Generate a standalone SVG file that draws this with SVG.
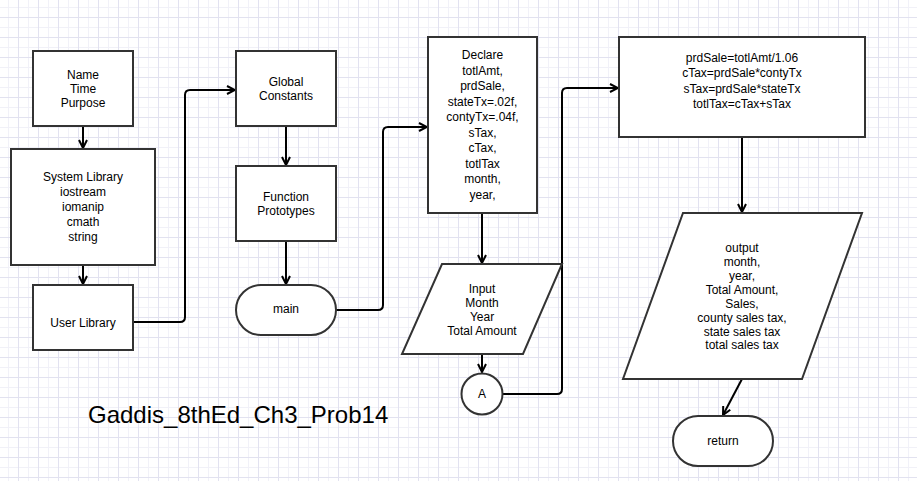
<svg xmlns="http://www.w3.org/2000/svg" width="917" height="481" viewBox="0 0 917 481">
<style>
.box{fill:#fff;stroke:#333;stroke-width:2}
.t{font-family:"Liberation Sans",Arial,sans-serif;font-size:12px;fill:#000;text-anchor:middle}
.c{fill:none;stroke:#000;stroke-width:2;stroke-linejoin:round}
.title{font-family:"Liberation Sans",Arial,sans-serif;font-size:24px;fill:#000}
</style>
<defs>
<pattern id="grid" x="18" y="17" width="20" height="20" patternUnits="userSpaceOnUse">
<rect x="10" y="0" width="1" height="20" fill="#f1f1f8"/>
<rect x="0" y="10" width="20" height="1" fill="#f1f1f8"/>
<rect x="0" y="0" width="1" height="20" fill="#e2e2f0"/>
<rect x="0" y="0" width="20" height="1" fill="#e2e2f0"/>
</pattern>
<marker id="arr" viewBox="0 0 10 10" refX="9" refY="5" markerWidth="10" markerHeight="10" markerUnits="userSpaceOnUse" orient="auto">
<path d="M1,1 L9,5 L1,9" fill="none" stroke="#000" stroke-width="2"/>
</marker>
</defs>
<rect width="917" height="481" fill="#fff"/>
<rect width="917" height="481" fill="url(#grid)"/>

<g id="connectors">
<path class="c" d="M83,126 L83,148" marker-end="url(#arr)"/>
<path class="c" d="M83,265 L83,284" marker-end="url(#arr)"/>
<path class="c" d="M133,322 L180,322 Q185,322 185,317 L185,95 Q185,90 190,90 L235,90" marker-end="url(#arr)"/>
<path class="c" d="M286,126 L286,165" marker-end="url(#arr)"/>
<path class="c" d="M286,241 L286,284" marker-end="url(#arr)"/>
<path class="c" d="M336,310 L378,310 Q383,310 383,305 L383,132 Q383,127 388,127 L427,127" marker-end="url(#arr)"/>
<path class="c" d="M482,213 L482,263" marker-end="url(#arr)"/>
<path class="c" d="M482,354 L482,372" marker-end="url(#arr)"/>
<path class="c" d="M503,394 L557,394 Q562,394 562,389 L562,93 Q562,88 567,88 L618,88" marker-end="url(#arr)"/>
<path class="c" d="M742,137 L742,212" marker-end="url(#arr)"/>
<path class="c" d="M742,379 L723,415" marker-end="url(#arr)"/>
</g>

<g id="header">
<rect class="box" x="33" y="51" width="100" height="75"/>
<text class="t" x="83" y="79">Name</text>
<text class="t" x="83" y="93">Time</text>
<text class="t" x="83" y="107">Purpose</text>
</g>
<g id="syslib">
<rect class="box" x="11" y="149" width="144" height="116"/>
<text class="t" x="83" y="181">System Library</text>
<text class="t" x="83" y="196">iostream</text>
<text class="t" x="83" y="211">iomanip</text>
<text class="t" x="83" y="226">cmath</text>
<text class="t" x="83" y="241">string</text>
</g>
<g id="userlib">
<rect class="box" x="33" y="285" width="100" height="65"/>
<text class="t" x="83" y="327">User Library</text>
</g>
<g id="globals">
<rect class="box" x="236" y="51" width="100" height="75"/>
<text class="t" x="286" y="86">Global</text>
<text class="t" x="286" y="100">Constants</text>
</g>
<g id="protos">
<rect class="box" x="236" y="166" width="100" height="75"/>
<text class="t" x="286" y="201">Function</text>
<text class="t" x="286" y="215">Prototypes</text>
</g>
<g id="main">
<rect class="box" x="236" y="285" width="100" height="50" rx="25" ry="25"/>
<text class="t" x="286" y="313">main</text>
</g>
<g id="declare">
<rect class="box" x="428" y="37" width="109" height="176"/>
<text class="t" x="482.5" y="59">Declare</text>
<text class="t" x="482.5" y="74.5">totlAmt,</text>
<text class="t" x="482.5" y="90">prdSale,</text>
<text class="t" x="482.5" y="105.5">stateTx=.02f,</text>
<text class="t" x="482.5" y="121">contyTx=.04f,</text>
<text class="t" x="482.5" y="136.5">sTax,</text>
<text class="t" x="482.5" y="152">cTax,</text>
<text class="t" x="482.5" y="167.5">totlTax</text>
<text class="t" x="482.5" y="183">month,</text>
<text class="t" x="482.5" y="198.5">year,</text>
</g>
<g id="input">
<polygon class="box" points="442,264 562,264 523,354 402,354"/>
<text class="t" x="482" y="292.5">Input</text>
<text class="t" x="482" y="306.5">Month</text>
<text class="t" x="482" y="320.5">Year</text>
<text class="t" x="482" y="334.5">Total Amount</text>
</g>
<g id="connA">
<circle class="box" cx="482" cy="394" r="20.5"/>
<text class="t" x="482" y="398">A</text>
</g>
<g id="calc">
<rect class="box" x="619" y="37" width="246" height="100"/>
<text class="t" x="742" y="61.5">prdSale=totlAmt/1.06</text>
<text class="t" x="742" y="77">cTax=prdSale*contyTx</text>
<text class="t" x="742" y="92.5">sTax=prdSale*stateTx</text>
<text class="t" x="742" y="107.5">totlTax=cTax+sTax</text>
</g>
<g id="output">
<polygon class="box" points="683,213 862,213 802,379 623,379"/>
<text class="t" x="742" y="251.5">output</text>
<text class="t" x="742" y="265.5">month,</text>
<text class="t" x="742" y="279.5">year,</text>
<text class="t" x="742" y="293.5">Total Amount,</text>
<text class="t" x="742" y="307.5">Sales,</text>
<text class="t" x="742" y="321.5">county sales tax,</text>
<text class="t" x="742" y="335.5">state sales tax</text>
<text class="t" x="742" y="349">total sales tax</text>
</g>
<g id="return">
<rect class="box" x="673" y="416" width="100" height="50" rx="25" ry="25"/>
<text class="t" x="723" y="445">return</text>
</g>
<text class="title" x="88" y="423">Gaddis_8thEd_Ch3_Prob14</text>
</svg>
